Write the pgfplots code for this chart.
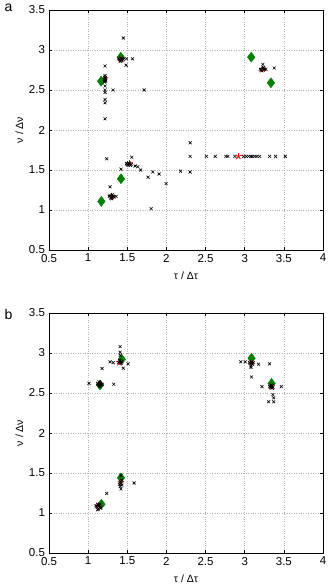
\documentclass[border=0pt]{standalone}
\usepackage{fontspec}
\setmainfont{Liberation Sans}
\usepackage{pgfplots}
\pgfplotsset{compat=1.18}
\definecolor{dgreen}{RGB}{0,130,0}
\pgfplotsset{
  panel/.style={
    scale only axis, width=274pt, height=240pt,
    xmin=0.5, xmax=4, ymin=0.5, ymax=3.5,
    xtick={0.5,1,...,4}, ytick={0.5,1,...,3.5},
    /pgf/number format/assume math mode=true,
    tick label style={font=\fontsize{11.5}{13}\selectfont},
    xticklabel style={yshift=-0.5pt},
    yticklabel style={xshift=-0.5pt},
    label style={font=\fontsize{10.5}{12}\selectfont},
    xlabel={τ / Δτ}, ylabel={ν / Δν},
    xlabel style={yshift=-3pt}, ylabel style={yshift=-1pt},
    grid=major, major grid style={dotted, gray!60, line width=0.6pt},
    tick align=inside, major tick length=3pt,
    axis line style={line width=0.9pt},
    every tick/.style={black, line width=0.5pt},
    clip=false,
  },
  cross/.style={only marks, mark=x, mark size=2.1pt, black, mark options={line width=0.6pt}},
  dia/.style={only marks, mark=diamond*, mark size=5pt, dgreen, mark options={fill=dgreen, draw=dgreen}},
  rstar/.style={only marks, mark=star, mark size=3.4pt, red, mark options={line width=0.8pt}},
}
\begin{document}
\begin{tikzpicture}
\path[use as bounding box] (0pt,0pt) rectangle (328pt,586pt);
\node[font=\fontsize{14}{14}\selectfont, anchor=north west] at (1pt,586pt) {a};
\node[font=\fontsize{14}{14}\selectfont, anchor=north west] at (1pt,280pt) {b};
% ---------------- panel a
\begin{axis}[panel, at={(49pt,336pt)}, anchor=south west]
\addplot[dia] coordinates {(1.165,2.61) (1.417,2.91) (3.083,2.91) (3.335,2.59) (1.42,1.39) (1.169,1.108)};
\addplot[rstar] coordinates {(1.216,2.64) (1.42,2.88) (3.23,2.76) (1.53,1.58) (1.30,1.17)};
\addplot[cross] coordinates {
(1.216,2.80) (1.216,2.68) (1.21,2.66) (1.22,2.64) (1.216,2.62) (1.21,2.60) (1.216,2.55)
(1.216,2.50) (1.216,2.47) (1.216,2.38) (1.216,2.34) (1.216,2.14) (1.318,2.50) (1.715,2.50)
(1.22,2.65) (1.21,2.63) (1.225,2.61)
(1.40,2.88) (1.42,2.90) (1.43,2.87) (1.41,2.86) (1.44,2.89) (1.39,2.89) (1.45,2.88)
(1.49,2.89) (1.566,2.89) (1.485,2.81) (1.45,3.15)
(3.21,2.75) (3.23,2.77) (3.25,2.76) (3.22,2.74) (3.24,2.78) (3.232,2.82) (3.20,2.76)
(3.27,2.76) (3.377,2.775)
(2.303,1.84)
(1.50,1.57) (1.52,1.59) (1.54,1.56) (1.53,1.58) (1.55,1.57) (1.51,1.56) (1.49,1.58)
(1.557,1.66) (1.634,1.54) (1.67,1.50) (1.60,1.55) (1.42,1.51) (1.766,1.41) (1.826,1.475)
(1.907,1.45) (1.996,1.33) (2.18,1.485) (2.303,1.475) (2.303,1.67) (1.804,1.017) (1.237,1.64)
(2.51,1.67) (2.623,1.67) (2.76,1.67) (2.785,1.67) (2.875,1.67) (2.985,1.67) (3.02,1.67)
(3.05,1.67) (3.08,1.67) (3.10,1.67) (3.13,1.67) (3.156,1.67) (3.19,1.67) (3.318,1.67)
(3.394,1.67) (3.518,1.67)
(1.28,1.18) (1.30,1.16) (1.32,1.17) (1.29,1.15) (1.31,1.19) (1.33,1.16) (1.27,1.17)
(1.357,1.17) (1.30,1.14) (1.28,1.29)
};
\addplot[rstar] coordinates {(2.92,1.67)};
\end{axis}
% ---------------- panel b
\begin{axis}[panel, at={(49pt,33pt)}, anchor=south west]
\addplot[dia] coordinates {(1.152,2.60) (1.43,2.92) (3.087,2.935) (3.343,2.62) (1.42,1.44) (1.17,1.11)};
\addplot[rstar] coordinates {(1.152,2.61) (1.40,2.88) (3.087,2.88) (3.343,2.58) (1.42,1.38) (1.13,1.09)};
\addplot[cross] coordinates {
(1.13,2.61) (1.15,2.63) (1.17,2.60) (1.14,2.59) (1.16,2.62) (1.15,2.60) (1.12,2.62)
(1.18,2.61) (1.15,2.58) (1.14,2.64) (1.011,2.62) (1.327,2.61) (1.178,2.807)
(1.39,2.88) (1.41,2.90) (1.42,2.87) (1.40,2.91) (1.43,2.89) (1.408,3.08) (1.408,3.01)
(1.41,2.97) (1.28,2.89) (1.32,2.88) (1.45,2.81) (1.51,2.865)
(3.07,2.87) (3.09,2.89) (3.10,2.86) (3.08,2.84) (3.06,2.88) (3.11,2.88) (3.08,2.82)
(2.95,2.89) (3.006,2.89) (3.177,2.86) (3.317,2.865) (3.087,2.70)
(3.33,2.57) (3.35,2.59) (3.36,2.57) (3.34,2.60) (3.32,2.58) (3.35,2.56) (3.22,2.58)
(3.467,2.58) (3.36,2.48) (3.37,2.44) (3.305,2.39) (3.37,2.39)
(1.42,1.30) (1.41,1.33) (1.43,1.35) (1.42,1.37) (1.41,1.39) (1.43,1.41) (1.42,1.47)
(1.40,1.36) (1.587,1.375) (1.237,1.245)
(1.11,1.08) (1.13,1.10) (1.15,1.07) (1.12,1.11) (1.14,1.09) (1.10,1.09) (1.13,1.05)
(1.16,1.06) (1.12,1.04) (1.15,1.11)
};
\end{axis}
\end{tikzpicture}
\end{document}
